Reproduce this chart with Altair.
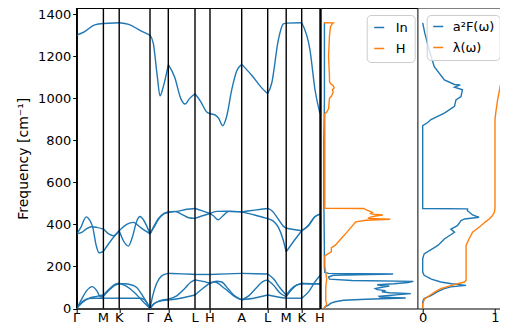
import altair as alt
import pandas as pd

FONT = "DejaVu Sans"
BLUE = "#1f77b4"
ORANGE = "#ff7f0e"
FMAX = 1430

# ---------------- high-symmetry path ----------------
sym_labels = ["Γ", "M", "K", "Γ", "A", "L", "H", "A", "L", "M", "K", "H"]
sym_k = [0, 26.7, 42.5, 73.3, 91.6, 118.3, 133.3, 165.0, 191.0, 209.5, 225.0, 243.3]

# ---------------- phonon bands (k, frequency cm^-1) ----------------
high_k = [0, 8, 18, 26.7, 42.5, 52, 63.3, 73.3, 76.6, 80.6, 83.3, 86.6, 91.6, 98, 104, 108.3, 113, 118.3,
          124, 130, 133.3, 138, 142, 146, 150, 155, 160, 165, 175, 185, 191, 195, 201.6, 206.6, 209.5,
          225, 233.3, 238.3, 243.3]
high_f = [1301, 1318, 1350, 1356, 1360, 1352, 1324, 1301, 1262, 1104, 1012, 1056, 1160, 1100, 1000, 973, 1000, 1022,
          985, 935, 927, 922, 905, 870, 915, 1040, 1130, 1162, 1110, 1050, 1022, 1072, 1277, 1354, 1358,
          1360, 1230, 1041, 927]

mid1_k = [0, 4, 9.5, 13, 16, 19.5, 22.5, 26.7, 34.5, 42.5, 47, 51.6, 56, 60, 63.3, 67, 73.3, 77, 82, 87, 91.6,
          100, 110, 118.3, 125, 133.3, 140, 150, 165, 178, 191, 196, 201.6, 206.6, 209.5, 217, 225, 232, 238, 243.3]
mid1_f = [355, 385, 436, 420, 387, 300, 265, 272, 325, 370, 320, 297, 345, 415, 438, 420, 355, 385, 425, 450, 458,
          462, 472, 476, 466, 452, 462, 463, 460, 468, 476, 462, 425, 392, 382, 376, 370, 395, 435, 449]

mid2_k = [0, 5, 10, 15, 20, 26.7, 32, 36.6, 42.5, 50, 56.6, 64, 73.3, 77, 82, 87, 91.6, 98, 105, 112, 118.3,
          125, 133.3, 137, 141.5, 146, 152, 165, 178, 191, 196, 201.6, 206.6, 209.5, 217, 225, 232, 238, 243.3]
mid2_f = [355, 362, 380, 389, 386, 378, 355, 346, 370, 400, 410, 385, 355, 390, 430, 452, 458, 462, 448, 432, 429,
          440, 452, 440, 422, 440, 462, 460, 445, 428, 418, 387, 325, 270, 320, 370, 398, 437, 449]

low1_k = [0, 3, 7, 12, 17, 26.7, 42.5, 64, 68, 71, 73.3, 76, 80, 86, 91.6, 105, 118.3, 126, 133.3, 138, 148,
          157, 165, 178, 191, 200, 209.5, 225, 232, 238, 243.3]
low1_f = [0, 20, 38, 47, 49, 49, 49, 49, 40, 22, 0, 18, 30, 38, 40, 50, 64, 95, 122, 126, 95,
          60, 41, 50, 64, 56, 49, 49, 80, 125, 157]

low2_k = [0, 6, 12, 20, 26.7, 33, 38, 42.5, 50, 58, 66, 73.3, 78, 84, 91.6, 100, 108, 114, 118.3, 125, 133.3,
          140, 145, 152, 158, 165, 172, 180, 186, 191, 197, 203, 209.5, 215, 220, 225, 243.3]
low2_f = [0, 30, 48, 58, 64, 95, 115, 120, 105, 75, 35, 0, 25, 38, 44, 60, 95, 125, 136, 130, 120,
          130, 126, 90, 60, 41, 60, 100, 128, 136, 110, 75, 56, 90, 112, 117, 117]

low3_k = [0, 5, 10, 15.6, 20, 24, 26.7, 33, 38, 42.5, 47, 55, 60, 66, 73.3, 76, 80, 85, 91.6, 105, 118.3,
          133.3, 150, 165, 191, 197, 203, 209.5, 215, 225, 235, 243.3]
low3_f = [0, 45, 85, 104, 85, 55, 57, 90, 110, 118, 118, 112, 100, 60, 0, 60, 120, 155, 167, 165, 162,
          162, 165, 167, 164, 140, 100, 64, 95, 120, 118, 117]

bands = {
    "high": (high_k, high_f),
    "mid1": (mid1_k, mid1_f),
    "mid2": (mid2_k, mid2_f),
    "low1": (low1_k, low1_f),
    "low2": (low2_k, low2_f),
    "low3": (low3_k, low3_f),
}

# ---------------- projected phonon DOS ----------------
dos_in_f = [0, 5, 10, 16, 24, 32, 39, 44, 50, 54, 58, 62, 66, 71, 75, 80, 85, 90, 95, 101, 107, 110, 113, 118,
            124, 129, 133, 140, 150, 158, 164, 167, 172, 200, 300, 500, 800, 1000, 1200, 1359]
dos_in_v = [0, 0.01, 0.02, 0.05, 0.07, 0.12, 0.21, 0.45, 0.875, 0.6, 0.59, 0.7, 0.8, 0.93, 0.7, 0.62, 0.66, 0.57,
            0.55, 0.62, 0.70, 0.6, 0.57, 0.75, 0.9, 0.957, 0.3, 0.06, 0.05, 0.1, 0.74, 0.05, 0.01, 0.005, 0.005,
            0.0, 0.0, 0.006, 0.006, 0.006]

dos_h_f = [0, 20, 40, 60, 100, 140, 170, 200, 250, 256, 270, 290, 300, 320, 340, 360, 386, 412, 420, 425, 429,
           435, 440, 445, 449, 452, 457, 465, 470, 476, 477, 600, 926, 935, 950, 1000, 1010, 1030, 1040, 1050,
           1060, 1070, 1080, 1100, 1200, 1300, 1340, 1355, 1359, 1359.5]
dos_h_v = [0, 0.03, 0.02, 0.02, 0.02, 0.03, 0.02, 0.01, 0.01, 0.03, 0.08, 0.08, 0.12, 0.16, 0.2, 0.24, 0.29, 0.34,
           0.45, 0.71, 0.47, 0.5, 0.55, 0.63, 0.52, 0.5, 0.52, 0.48, 0.45, 0.43, 0.01, 0.01, 0.01, 0.03, 0.05,
           0.06, 0.08, 0.1, 0.09, 0.11, 0.1, 0.07, 0.06, 0.06, 0.05, 0.06, 0.07, 0.09, 0.1, 0.0]

# ---------------- Eliashberg function and lambda ----------------
a2f_f = [0, 32, 47, 63, 79, 95, 103, 110, 118, 126, 140, 158, 173, 237, 260, 300, 331, 363, 378, 394, 418, 426,
         434, 445, 465, 474, 476, 870, 885, 899, 930, 962, 993, 1009, 1041, 1053, 1064, 1066, 1088, 1151, 1230,
         1309, 1359]
a2f_v = [0, 0.0, 0.02, 0.12, 0.2, 0.3, 0.39, 0.6, 0.4, 0.25, 0.12, 0.02, 0, 0, 0.02, 0.21, 0.3, 0.44, 0.39, 0.48,
         0.53, 0.58, 0.78, 0.69, 0.62, 0.62, 0.0, 0.0, 0.07, 0.115, 0.3, 0.44, 0.46, 0.53, 0.55, 0.44, 0.52, 0.44,
         0.3, 0.16, 0.09, 0.03, 0.0]

lam_f = [0, 20, 32, 47, 63, 79, 95, 110, 126, 134, 173, 300, 331, 363, 394, 410, 426, 440, 457, 476, 899, 930,
         993, 1072, 1151, 1214, 1300, 1359]
lam_v = [0, 0.0, 0.01, 0.03, 0.1, 0.17, 0.25, 0.4, 0.576, 0.6, 0.6, 0.6, 0.64, 0.69, 0.806, 0.86, 0.92, 0.96,
         0.99, 1.0, 1.0, 1.01, 1.036, 1.08, 1.15, 1.18, 1.21, 1.22]

# ---------------- tables ----------------
rows = []
for name, (ks, fs) in bands.items():
    seg = 0
    for i, (k, f) in enumerate(zip(ks, fs)):
        rows.append({"line": f"{name}_{seg}", "k": k, "freq": f})
        if 0 < i < len(ks) - 1 and k in sym_k:
            seg += 1
            rows.append({"line": f"{name}_{seg}", "k": k, "freq": f})
band_df = pd.DataFrame(rows)
sym_df = pd.DataFrame({"k": sym_k, "label": sym_labels})

dos_df = pd.concat([
    pd.DataFrame({"species": "In", "freq": dos_in_f, "dos": dos_in_v, "i": range(len(dos_in_f))}),
    pd.DataFrame({"species": "H", "freq": dos_h_f, "dos": dos_h_v, "i": range(len(dos_h_f))}),
])
eli_df = pd.concat([
    pd.DataFrame({"kind": "a²F(ω)", "freq": a2f_f, "val": a2f_v, "i": range(len(a2f_f))}),
    pd.DataFrame({"kind": "λ(ω)", "freq": lam_f, "val": lam_v, "i": range(len(lam_f))}),
])

SVG_W = 492
SVG_H = 314
H = 300.5
LEFT = 68.7
W1, W2 = 243.3, 96.7
W3 = SVG_W - LEFT - W1 - W2          # last panel runs to the right edge of the page
PX_PER_UNIT3 = 72.3
X3_MIN = -0.069
X3_MAX = X3_MIN + W3 / PX_PER_UNIT3
FS = 13
LABEL_BASE = 13   # baseline of bottom tick labels below the plot

yscale = alt.Scale(domain=[0, FMAX], nice=False, zero=False)
xscale1 = alt.Scale(domain=[0, 243.3], nice=False, zero=False)

x1 = alt.X("k:Q", scale=xscale1,
           axis=alt.Axis(values=sym_k, labels=False, title=None, tickSize=4))
y1 = alt.Y("freq:Q", scale=yscale,
           axis=alt.Axis(values=list(range(0, 1401, 200)), format="d", title="Frequency [cm⁻¹]", tickSize=4,
                         labelPadding=2, titlePadding=7, labelFontSize=FS, titleFontSize=14))

band_lines = alt.Chart(band_df).mark_line(color=BLUE, strokeWidth=1.4, interpolate="monotone").encode(
    x=x1, y=y1, detail="line:N")
sym_rules = alt.Chart(sym_df).mark_rule(color="black", strokeWidth=1.4).encode(x=alt.X("k:Q", scale=xscale1))
sym_text = alt.Chart(sym_df).mark_text(baseline="alphabetic", fontSize=FS, font=FONT, color="black",
                                       clip=False).encode(
    x=alt.X("k:Q", scale=xscale1), y=alt.value(H + LABEL_BASE), text="label:N")
p1 = alt.layer(band_lines, sym_rules, sym_text).properties(width=W1, height=H)

legend_common = dict(title=None, orient="none", legendY=7, symbolType="stroke", symbolStrokeWidth=1.5,
                     symbolSize=100, labelFontSize=FS, labelFont=FONT, strokeColor="#cccccc",
                     fillColor="rgba(255,255,255,0.8)", cornerRadius=4, rowPadding=7)

p2 = alt.Chart(dos_df).mark_line(strokeWidth=1.4, clip=True).encode(
    x=alt.X("dos:Q", scale=alt.Scale(domain=[-0.034, 1.0], nice=False, zero=False), axis=None),
    y=alt.Y("freq:Q", scale=yscale, axis=None),
    color=alt.Color("species:N", scale=alt.Scale(domain=["In", "H"], range=[BLUE, ORANGE]),
                    legend=alt.Legend(legendX=46, padding=6, labelOffset=10, **legend_common)),
    order=alt.Order("i:Q"),
).properties(width=W2, height=H)

eli_lines = alt.Chart(eli_df).mark_line(strokeWidth=1.4, clip=True).encode(
    x=alt.X("val:Q", scale=alt.Scale(domain=[X3_MIN, X3_MAX], nice=False, zero=False),
            axis=alt.Axis(values=[0, 1], format="d", title=None, labelFontSize=FS, tickSize=4,
                          labelBaseline="alphabetic", labelPadding=LABEL_BASE - 4,
                          domain=True, labelFlush=False)),
    y=alt.Y("freq:Q", scale=yscale, axis=None),
    color=alt.Color("kind:N", scale=alt.Scale(domain=["a²F(ω)", "λ(ω)"], range=[BLUE, ORANGE]),
                    legend=alt.Legend(legendX=9, padding=5, labelOffset=8, **legend_common)),
    order=alt.Order("i:Q"),
)
top_border = alt.Chart(pd.DataFrame({"a": [0]})).mark_rule(color="black", strokeWidth=1).encode(
    x=alt.value(0), x2=alt.value(W3), y=alt.value(0))
p3 = alt.layer(eli_lines, top_border).properties(width=W3, height=H, view=alt.ViewBackground(stroke=None))

chart = alt.hconcat(p1, p2, p3, spacing=0, bounds="flush").resolve_scale(
    color="independent").resolve_legend(color="independent").properties(
    autosize=alt.AutoSizeParams(type="none"),
    padding={"left": LEFT, "top": 0, "right": SVG_W - LEFT, "bottom": SVG_H}
).configure_view(stroke="black", strokeWidth=1).configure_axis(
    labelFont=FONT, titleFont=FONT, labelColor="black", titleColor="black", domainColor="black",
    tickColor="black", grid=False, titleFontWeight="normal", domainWidth=1, tickWidth=1)

chart.save("out.html", embed_options={"renderer": "svg", "actions": False})
